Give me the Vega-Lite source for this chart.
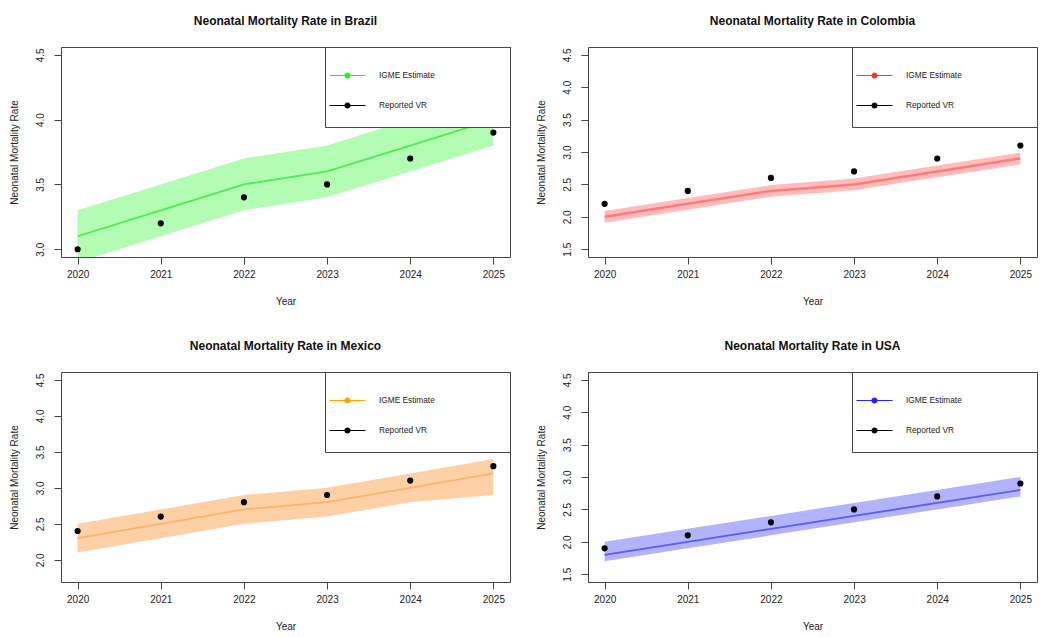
{
  "$schema": "https://vega.github.io/schema/vega-lite/v6.json",
  "background": "white",
  "padding": {"left": 8, "top": 14, "right": 5, "bottom": 5},
  "columns": 2,
  "spacing": {"row": 32, "column": 24},
  "resolve": {"scale": {"color": "independent", "x": "independent", "y": "independent"}, "legend": {"color": "independent"}},
  "datasets": {
    "brazil": [
      {"year": 2020, "est": 3.1, "lower": 2.9, "upper": 3.3, "vr": 3.0},
      {"year": 2021, "est": 3.3, "lower": 3.1, "upper": 3.5, "vr": 3.2},
      {"year": 2022, "est": 3.5, "lower": 3.3, "upper": 3.7, "vr": 3.4},
      {"year": 2023, "est": 3.6, "lower": 3.4, "upper": 3.8, "vr": 3.5},
      {"year": 2024, "est": 3.8, "lower": 3.6, "upper": 4.0, "vr": 3.7},
      {"year": 2025, "est": 4.0, "lower": 3.8, "upper": 4.2, "vr": 3.9}
    ],
    "colombia": [
      {"year": 2020, "est": 2.0, "lower": 1.91, "upper": 2.09, "vr": 2.2},
      {"year": 2021, "est": 2.2, "lower": 2.11, "upper": 2.29, "vr": 2.4},
      {"year": 2022, "est": 2.4, "lower": 2.31, "upper": 2.49, "vr": 2.6},
      {"year": 2023, "est": 2.5, "lower": 2.41, "upper": 2.59, "vr": 2.7},
      {"year": 2024, "est": 2.7, "lower": 2.61, "upper": 2.79, "vr": 2.9},
      {"year": 2025, "est": 2.9, "lower": 2.81, "upper": 2.99, "vr": 3.1}
    ],
    "mexico": [
      {"year": 2020, "est": 2.3, "lower": 2.1, "upper": 2.5, "vr": 2.4},
      {"year": 2021, "est": 2.5, "lower": 2.3, "upper": 2.7, "vr": 2.6},
      {"year": 2022, "est": 2.7, "lower": 2.5, "upper": 2.9, "vr": 2.8},
      {"year": 2023, "est": 2.8, "lower": 2.6, "upper": 3.0, "vr": 2.9},
      {"year": 2024, "est": 3.0, "lower": 2.8, "upper": 3.2, "vr": 3.1},
      {"year": 2025, "est": 3.2, "lower": 2.9, "upper": 3.4, "vr": 3.3}
    ],
    "usa": [
      {"year": 2020, "est": 1.8, "lower": 1.7, "upper": 2.0, "vr": 1.9},
      {"year": 2021, "est": 2.0, "lower": 1.9, "upper": 2.2, "vr": 2.1},
      {"year": 2022, "est": 2.2, "lower": 2.1, "upper": 2.4, "vr": 2.3},
      {"year": 2023, "est": 2.4, "lower": 2.3, "upper": 2.6, "vr": 2.5},
      {"year": 2024, "est": 2.6, "lower": 2.5, "upper": 2.8, "vr": 2.7},
      {"year": 2025, "est": 2.8, "lower": 2.7, "upper": 3.0, "vr": 2.9}
    ]
  },
  "concat": [
    {
      "name": "brazil",
      "width": 449, "height": 210,
      "title": "Neonatal Mortality Rate in Brazil",
      "data": {"name": "brazil"},
      "encoding": {"x": {"field": "year", "type": "quantitative", "title": "Year", "scale": {"domain": [2019.8, 2025.2], "nice": false, "zero": false}, "axis": {"values": [2020, 2021, 2022, 2023, 2024, 2025], "format": "d", "labelOverlap": false, "tickCount": 10}}},
      "layer": [
        {"mark": {"type": "area", "color": "#b3fcb3", "opacity": 1, "clip": true},
         "encoding": {"y": {"field": "lower", "type": "quantitative", "title": "Neonatal Mortality Rate", "scale": {"domain": [2.94, 4.56], "nice": false, "zero": false}, "axis": {"values": [3.0, 3.5, 4.0, 4.5], "format": ".1f", "labelOverlap": false, "labelBound": false, "tickCount": 10}}, "y2": {"field": "upper"}}},
        {"mark": {"type": "line", "color": "#4feb4f", "strokeWidth": 1.8, "clip": true},
         "encoding": {"y": {"field": "est", "type": "quantitative", "title": "Neonatal Mortality Rate"}}},
        {"mark": {"type": "point", "filled": true, "opacity": 1, "size": 38, "clip": true},
         "encoding": {"y": {"field": "vr", "type": "quantitative", "title": "Neonatal Mortality Rate"},
           "color": {"datum": "Reported VR", "type": "nominal", "scale": {"domain": ["IGME Estimate", "Reported VR"], "range": ["#22ee22", "#000000"]},
             "legend": {"title": ".", "titleOrient": "right", "titleOpacity": 0, "titleFontSize": 8, "titlePadding": 62}}}}
      ]
    },
    {
      "name": "colombia",
      "width": 449, "height": 210,
      "title": "Neonatal Mortality Rate in Colombia",
      "data": {"name": "colombia"},
      "encoding": {"x": {"field": "year", "type": "quantitative", "title": "Year", "scale": {"domain": [2019.8, 2025.2], "nice": false, "zero": false}, "axis": {"values": [2020, 2021, 2022, 2023, 2024, 2025], "format": "d", "labelOverlap": false, "tickCount": 10}}},
      "layer": [
        {"mark": {"type": "area", "color": "#ffbcbc", "opacity": 1, "clip": true},
         "encoding": {"y": {"field": "lower", "type": "quantitative", "title": "Neonatal Mortality Rate", "scale": {"domain": [1.38, 4.62], "nice": false, "zero": false}, "axis": {"values": [1.5, 2.0, 2.5, 3.0, 3.5, 4.0, 4.5], "format": ".1f", "labelOverlap": false, "labelBound": false, "tickCount": 10}}, "y2": {"field": "upper"}}},
        {"mark": {"type": "line", "color": "#ff7a7a", "strokeWidth": 2.5, "clip": true},
         "encoding": {"y": {"field": "est", "type": "quantitative", "title": "Neonatal Mortality Rate"}}},
        {"mark": {"type": "point", "filled": true, "opacity": 1, "size": 38, "clip": true},
         "encoding": {"y": {"field": "vr", "type": "quantitative", "title": "Neonatal Mortality Rate"},
           "color": {"datum": "Reported VR", "type": "nominal", "scale": {"domain": ["IGME Estimate", "Reported VR"], "range": ["#ff3333", "#000000"]},
             "legend": {"title": ".", "titleOrient": "right", "titleOpacity": 0, "titleFontSize": 8, "titlePadding": 62}}}}
      ]
    },
    {
      "name": "mexico",
      "width": 449, "height": 210,
      "title": "Neonatal Mortality Rate in Mexico",
      "data": {"name": "mexico"},
      "encoding": {"x": {"field": "year", "type": "quantitative", "title": "Year", "scale": {"domain": [2019.8, 2025.2], "nice": false, "zero": false}, "axis": {"values": [2020, 2021, 2022, 2023, 2024, 2025], "format": "d", "labelOverlap": false, "tickCount": 10}}},
      "layer": [
        {"mark": {"type": "area", "color": "#fdd0a6", "opacity": 1, "clip": true},
         "encoding": {"y": {"field": "lower", "type": "quantitative", "title": "Neonatal Mortality Rate", "scale": {"domain": [1.692, 4.608], "nice": false, "zero": false}, "axis": {"values": [2.0, 2.5, 3.0, 3.5, 4.0, 4.5], "format": ".1f", "labelOverlap": false, "labelBound": false, "tickCount": 10}}, "y2": {"field": "upper"}}},
        {"mark": {"type": "line", "color": "#fdb46a", "strokeWidth": 1.8, "clip": true},
         "encoding": {"y": {"field": "est", "type": "quantitative", "title": "Neonatal Mortality Rate"}}},
        {"mark": {"type": "point", "filled": true, "opacity": 1, "size": 38, "clip": true},
         "encoding": {"y": {"field": "vr", "type": "quantitative", "title": "Neonatal Mortality Rate"},
           "color": {"datum": "Reported VR", "type": "nominal", "scale": {"domain": ["IGME Estimate", "Reported VR"], "range": ["#ffa500", "#000000"]},
             "legend": {"title": ".", "titleOrient": "right", "titleOpacity": 0, "titleFontSize": 8, "titlePadding": 62}}}}
      ]
    },
    {
      "name": "usa",
      "width": 449, "height": 210,
      "title": "Neonatal Mortality Rate in USA",
      "data": {"name": "usa"},
      "encoding": {"x": {"field": "year", "type": "quantitative", "title": "Year", "scale": {"domain": [2019.8, 2025.2], "nice": false, "zero": false}, "axis": {"values": [2020, 2021, 2022, 2023, 2024, 2025], "format": "d", "labelOverlap": false, "tickCount": 10}}},
      "layer": [
        {"mark": {"type": "area", "color": "#b3b3fc", "opacity": 1, "clip": true},
         "encoding": {"y": {"field": "lower", "type": "quantitative", "title": "Neonatal Mortality Rate", "scale": {"domain": [1.38, 4.62], "nice": false, "zero": false}, "axis": {"values": [1.5, 2.0, 2.5, 3.0, 3.5, 4.0, 4.5], "format": ".1f", "labelOverlap": false, "labelBound": false, "tickCount": 10}}, "y2": {"field": "upper"}}},
        {"mark": {"type": "line", "color": "#5a5aff", "strokeWidth": 1.8, "clip": true},
         "encoding": {"y": {"field": "est", "type": "quantitative", "title": "Neonatal Mortality Rate"}}},
        {"mark": {"type": "point", "filled": true, "opacity": 1, "size": 38, "clip": true},
         "encoding": {"y": {"field": "vr", "type": "quantitative", "title": "Neonatal Mortality Rate"},
           "color": {"datum": "Reported VR", "type": "nominal", "scale": {"domain": ["IGME Estimate", "Reported VR"], "range": ["#2222ff", "#000000"]},
             "legend": {"title": ".", "titleOrient": "right", "titleOpacity": 0, "titleFontSize": 8, "titlePadding": 62}}}}
      ]
    }
  ],
  "config": {
    "font": "Liberation Sans",
    "view": {"stroke": "#444", "strokeWidth": 1},
    "title": {"fontSize": 12, "fontWeight": "bold", "font": "Liberation Sans", "color": "#111", "anchor": "middle", "frame": "group", "baseline": "alphabetic", "offset": 19},
    "axis": {"domain": false, "grid": false, "tickColor": "#444", "tickSize": 7, "labelFontSize": 10, "titleFontSize": 10, "titleFontWeight": "normal", "labelColor": "#222", "titleColor": "#222", "labelFont": "Liberation Sans", "titleFont": "Liberation Sans", "labelOverlap": false},
    "axisX": {"labelPadding": 5, "titlePadding": 17},
    "axisY": {"labelAngle": 270, "labelAlign": "center", "labelBaseline": "bottom", "labelPadding": 9, "titlePadding": 16},
    "legend": {
      "orient": "top-right", "offset": 0, "padding": 10,
      "fillColor": "white", "strokeColor": "#444", "strokeWidth": 1,
      "symbolType": "M0,-0.62M0,0.62M-1,-0.03H1V0.03H-1Z M-0.17,0A0.17,0.17 0 1,1 0.17,0A0.17,0.17 0 1,1 -0.17,0Z",
      "symbolSize": 1300, "symbolStrokeWidth": 0, "symbolOffset": -6,
      "labelFontSize": 8.3, "labelColor": "#222", "labelOffset": 13, "labelFont": "Liberation Sans",
      "rowPadding": 0
    }
  }
}
